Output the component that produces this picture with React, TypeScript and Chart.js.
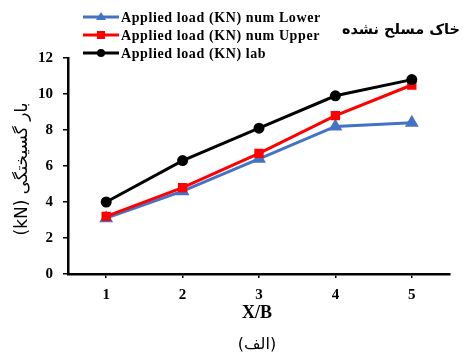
import React, { useEffect, useRef } from "react";
import { Chart, registerables } from "chart.js";

Chart.register(...registerables);

const categories = ["1", "2", "3", "4", "5"];
const lowerValues = [3.1, 4.6, 6.4, 8.2, 8.4];
const upperValues = [3.2, 4.8, 6.7, 8.8, 10.5];
const labValues = [4.0, 6.3, 8.1, 9.9, 10.8];
const seriesNames = [
  "Applied load (KN) num Lower",
  "Applied load (KN) num Upper",
  "Applied load (KN) lab",
];
const titleText = "خاک مسلح نشده";
const yTitleText = "بار گسیختگی (kN)";
const xTitleText = "X/B";
const captionText = "(الف)";

const W = 468;
const H = 356;

const decorPlugin = {
  id: "decor",
  afterDraw(chart: any) {
    const ctx = chart.ctx as CanvasRenderingContext2D;
    const area = chart.chartArea;
    ctx.save();
    // Legend
    const rows = [17, 35, 53];
    chart.data.datasets.forEach((ds: any, i: number) => {
      const y = rows[i];
      ctx.strokeStyle = ds.borderColor;
      ctx.lineWidth = 3;
      ctx.beginPath();
      ctx.moveTo(83, y);
      ctx.lineTo(119, y);
      ctx.stroke();
      ctx.fillStyle = ds.borderColor;
      const cx = 101;
      if (ds.pointStyle === "triangle") {
        ctx.beginPath();
        ctx.moveTo(cx, y - 5);
        ctx.lineTo(cx + 5, y + 3);
        ctx.lineTo(cx - 5, y + 3);
        ctx.closePath();
        ctx.fill();
      } else if (ds.pointStyle === "rect") {
        ctx.fillRect(cx - 4, y - 4, 8, 8);
      } else {
        ctx.beginPath();
        ctx.arc(cx, y, 4, 0, Math.PI * 2);
        ctx.fill();
      }
      ctx.fillStyle = "#000";
      ctx.font = "bold 14px 'Liberation Serif'";
      (ctx as any).letterSpacing = "0.6px";
      ctx.textAlign = "left";
      ctx.textBaseline = "middle";
      ctx.fillText(ds.label, 121, y + 1);
      (ctx as any).letterSpacing = "0px";
    });
    // Title
    ctx.fillStyle = "#000";
    ctx.font = "bold 14.5px 'DejaVu Sans'";
    ctx.textAlign = "right";
    ctx.textBaseline = "middle";
    ctx.direction = "rtl";
    ctx.fillText(titleText, 460, 30);
    // Y title
    ctx.save();
    ctx.translate(23, 169);
    ctx.rotate(-Math.PI / 2);
    ctx.textAlign = "center";
    ctx.textBaseline = "middle";
    ctx.font = "17px 'DejaVu Sans'";
    ctx.direction = "rtl";
    ctx.fillText(yTitleText, 0, 0);
    ctx.restore();
    // X title
    ctx.direction = "ltr";
    ctx.textAlign = "center";
    ctx.font = "bold 18px 'Liberation Serif'";
    ctx.fillText(xTitleText, (area.left + area.right) / 2 - 2, 313);
    // Caption
    ctx.direction = "rtl";
    ctx.font = "16px 'DejaVu Sans'";
    ctx.fillText(captionText, (area.left + area.right) / 2 - 2, 345);
    ctx.restore();
  },
};

export default function App() {
  const ref = useRef<HTMLCanvasElement | null>(null);
  useEffect(() => {
    if (!ref.current) return;
    const tickFont = { family: "'Liberation Serif'", size: 15, weight: "bold" as const };
    const chart = new Chart(ref.current, {
      type: "line",
      data: {
        labels: categories,
        datasets: [
          {
            label: seriesNames[0],
            data: lowerValues,
            borderColor: "#4472C4",
            backgroundColor: "#4472C4",
            borderWidth: 3,
            pointStyle: "triangle",
            pointRadius: 5,
            order: 3,
          },
          {
            label: seriesNames[1],
            data: upperValues,
            borderColor: "#FF0000",
            backgroundColor: "#FF0000",
            borderWidth: 3,
            pointStyle: "rect",
            pointRadius: 4.5,
            order: 2,
          },
          {
            label: seriesNames[2],
            data: labValues,
            borderColor: "#000000",
            backgroundColor: "#000000",
            borderWidth: 3,
            pointStyle: "circle",
            pointRadius: 4,
            order: 1,
          },
        ],
      },
      options: {
        responsive: false,
        animation: false,
        layout: { padding: { top: 58, right: 18, left: 0, bottom: 0 } },
        plugins: { legend: { display: false }, tooltip: { enabled: false } },
        scales: {
          x: {
            type: "category",
            offset: true,
            grid: { offset: false, drawOnChartArea: false, drawTicks: true, tickLength: 4, color: "#000", lineWidth: 1.5 },
            border: { display: true, color: "#000", width: 2.5 },
            ticks: { color: "#000", font: tickFont, padding: 8 },
            afterFit: (s: any) => { s.height = H - 274; },
          },
          y: {
            min: 0,
            max: 12,
            grid: { drawOnChartArea: false, drawTicks: true, tickLength: 5, color: "#000", lineWidth: 1.5 },
            border: { display: true, color: "#000", width: 2.5 },
            ticks: { stepSize: 2, color: "#000", font: tickFont, padding: 10 },
            afterFit: (s: any) => { s.width = 68; },
          },
        },
      },
      plugins: [decorPlugin],
    });
    return () => chart.destroy();
  }, []);
  return (
    <div style={{ position: "fixed", left: 0, top: 0, width: W, height: H, background: "#fff" }}>
      <canvas ref={ref} width={W} height={H} style={{ width: W, height: H }} />
    </div>
  );
}
